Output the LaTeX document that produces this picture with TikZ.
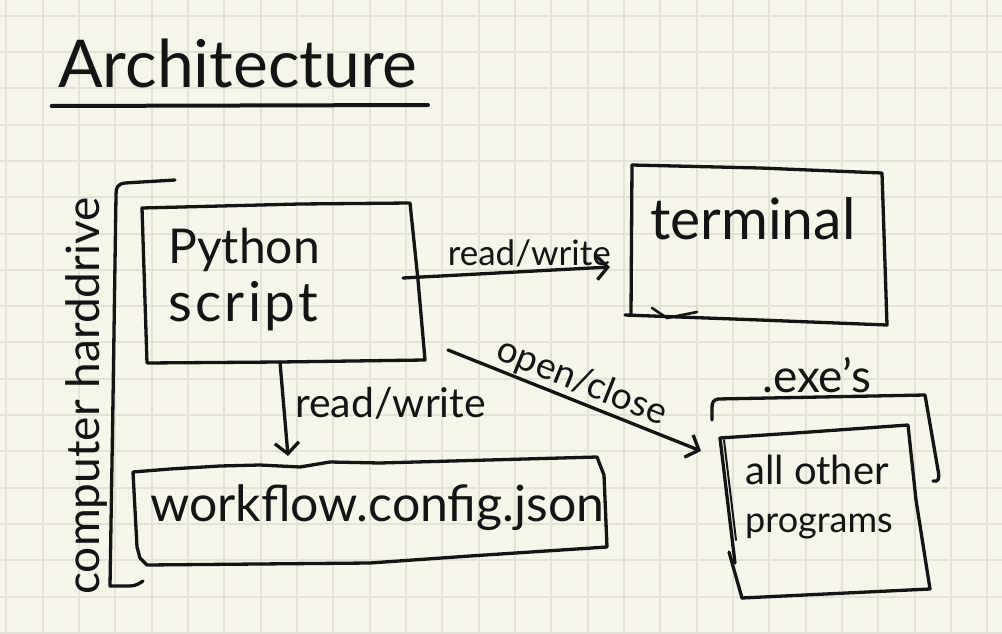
\documentclass[tikz,border=0pt]{standalone}
\usepackage{fontspec}
\setmainfont{Lato}
\usetikzlibrary{arrows.meta}
\definecolor{paper}{HTML}{F6F5EA}
\definecolor{gridc}{HTML}{E4E2D7}
\definecolor{ink}{HTML}{141414}
\begin{document}
\begin{tikzpicture}[x=1pt,y=-1pt,
  inkline/.style={draw=ink, line width=3.3pt, line cap=round, line join=round},
  arr/.style={inkline, -{Straight Barb[length=11pt,width=24pt,line width=3.3pt]}},
  lbl/.style={text=ink, inner sep=0pt},
]
\fill[paper] (0,0) rectangle (1002,634);
\useasboundingbox (0,0) rectangle (1002,634);
\foreach \i in {0,...,27} \draw[gridc, line width=2pt] ({6.4+36.33*\i},0) -- ++(0,634);
\foreach \j in {0,...,17} \draw[gridc, line width=2pt] (0,{15.7+36.3*\j}) -- ++(1002,0);

% title
\node[lbl, font=\fontsize{66}{70}\selectfont, anchor=base west] (title) at (58,88) {Architecture};
\draw[inkline, line width=4pt] (51.7,106) -- (428,105);

% computer harddrive bracket
\draw[inkline] (175,180) -- (125,183) .. controls (117,184) and (116,188) .. (116,195) -- (113,400) -- (110,586) -- (130,586) .. controls (136,586) and (140,583) .. (143,581);
\node[lbl, font=\fontsize{46}{50}\selectfont, rotate=90, anchor=base] (hd) at (99,396) {computer harddrive};

% python script box
\draw[inkline] (142,208) -- (300,204) -- (410,203) -- (418,280) -- (425,360) -- (280,362) -- (147,363) -- cycle;
\node[lbl, font=\fontsize{48}{58}\selectfont, align=left, anchor=north west] (py) at (168,228) {Python\\{\fontsize{55}{58}\selectfont\addfontfeature{LetterSpace=6}script}};

% terminal box
\draw[inkline] (632,165) -- (760,168) -- (882,173) -- (887,325) -- (760,320) -- (625,315);
\draw[inkline] (632,165) -- (631,315);
\draw[inkline, line width=2.6pt] (652,308) -- (667,318) -- (697,312);
\node[lbl, font=\fontsize{57}{60}\selectfont, anchor=base west] (term) at (650,239) {terminal};

% workflow box
\draw[inkline] (133,472) -- (170,469) -- (220,466) -- (260,465) -- (300,467) -- (330,462) -- (380,463) -- (597,457) -- (604,475) -- (607,547) -- (470,556) -- (370,563) -- (147,565) -- (140,558) -- (137,547) -- cycle;
\node[lbl, font=\fontsize{50}{54}\selectfont, anchor=base west] (wf) at (150,521) {workflow.config.json};

% exe bracket
\draw[inkline] (712,420) -- (712,407) .. controls (712,402) and (714,400) .. (718,399) -- (925,395) -- (938,470) .. controls (940,480) and (938,482) .. (933,481);
\node[lbl, font=\fontsize{46}{50}\selectfont, anchor=base west] (exe) at (762,392) {.exe's};

% all other programs box
\draw[inkline] (720,438) -- (810,432) -- (908,425) -- (916,500) -- (930,589) -- (742,598);
\draw[inkline] (720,438) -- (735,563);
\draw[inkline] (729,552) -- (742,598);
\draw[inkline, line width=2pt] (724,440) -- (736,540);
\node[lbl, font=\fontsize{40}{48}\selectfont, align=left, anchor=north west] (prog) at (745,455) {all other\\{\fontsize{36}{50}\selectfont programs}};

% connectors
\coordinate (pyR) at (403,278);
\coordinate (termIn) at (610,267);
\coordinate (pyBR) at (448,350);
\coordinate (exeIn) at (701,451);
\coordinate (pyB) at (280,362);
\coordinate (wfIn) at (288,456);
\draw[arr] (pyR) -- node[lbl, font=\fontsize{35}{38}\selectfont, above=3pt, pos=0.61] (rw1) {read/write} (termIn);
\draw[arr] (pyBR) -- node[lbl, font=\fontsize{37}{40}\selectfont, sloped, above=1pt, pos=0.5] (oc) {open/close} (exeIn);
\draw[arr] (pyB) -- (wfIn);
\node[lbl, font=\fontsize{41}{44}\selectfont, anchor=base west] (rw2) at (295,417) {read/write};
\end{tikzpicture}
\end{document}
